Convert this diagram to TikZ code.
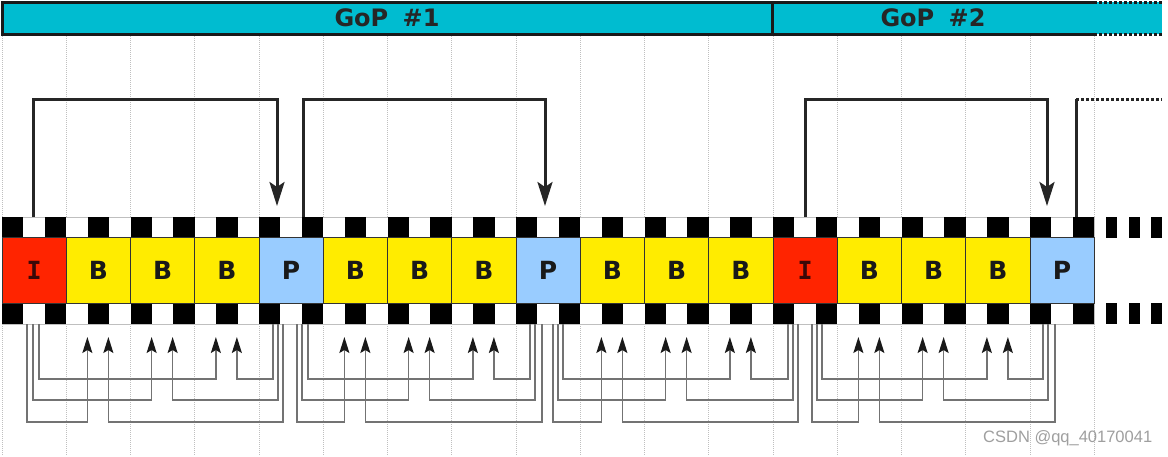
\documentclass[tikz,border=0pt]{standalone}
\usepackage{fontspec}
\setmainfont{DejaVu Sans}
\newfontfamily\monofnt{DejaVu Sans Mono}
\newfontfamily\wmfont{Liberation Sans}
\usetikzlibrary{arrows.meta,calc}
\definecolor{gopcyan}{HTML}{00BCD0}
\definecolor{ired}{HTML}{FF2400}
\definecolor{byellow}{HTML}{FFEC00}
\definecolor{pblue}{HTML}{99CCFF}
\definecolor{idark}{HTML}{3A0808}
\newcommand\Ilet{\textcolor{idark}{\monofnt\bfseries I}}
\begin{document}
\begin{tikzpicture}[x=1pt,y=-1pt,
  gridline/.style={gray!50,densely dotted,line width=1pt},
  gopline/.style={line width=3pt,draw=black!90},
  goptext/.style={font=\bfseries\fontsize{24}{24}\selectfont,text=black!85,inner sep=0pt},
  frame/.style={draw=black!80,line width=0.9pt,minimum width=64.25pt,minimum height=66pt,
    inner sep=0pt,font=\bfseries\fontsize{25}{25}\selectfont,text=black!90},
  sprocketrow/.style={fill=white,draw=gray!50,line width=0.5pt},
  toparr/.style={line width=3pt,draw=black!85,-{Stealth[length=24pt,width=15pt,inset=5pt]}},
  botarr/.style={line width=1.5pt,draw=black!55,-{Stealth[length=16pt,width=10pt,inset=3pt,color=black!90]}},
]
\useasboundingbox (0,0) rectangle (1168,456);
\fill[white] (0,0) rectangle (1168,456);

% grid
\foreach \k in {0,...,17} \draw[gridline] ({2+64.25*\k},36) -- ({2+64.25*\k},456);

% GoP bar
\fill[gopcyan] (2,2) rectangle (1162,34);
\draw[gopline] (1094,2) -- (2,2) -- (2,34) -- (1094,34);
\draw[gopline,dotted] (1094,2) -- (1162,2);
\draw[gopline,dotted] (1094,34) -- (1162,34);
\draw[gopline] (772,2) -- (772,34);
\node[goptext] (gop1) at (387,18) {GoP\hspace{0.6em}\#1};
\node[goptext] (gop2) at (933,18) {GoP\hspace{0.6em}\#2};

% sprocket rows
\path[sprocketrow] (2,217) rectangle (1094,238);
\path[sprocketrow] (2,303) rectangle (1094,324);
\foreach \k in {0,2,...,50} {
  \fill ({2+21.4167*\k},217) rectangle ++(21.4167,21);
  \fill ({2+21.4167*\k},303) rectangle ++(21.4167,21);
}
\foreach \x in {1106,1129,1151} {
  \fill (\x,217) rectangle ++(11,21);
  \fill (\x,303) rectangle ++(11,21);
}

% frames
\foreach \k/\t/\c in {0/\Ilet/ired,1/B/byellow,2/B/byellow,3/B/byellow,4/P/pblue,
  5/B/byellow,6/B/byellow,7/B/byellow,8/P/pblue,9/B/byellow,10/B/byellow,11/B/byellow,
  12/\Ilet/ired,13/B/byellow,14/B/byellow,15/B/byellow,16/P/pblue}
  \node[frame,fill=\c] (f\k) at ({2+64.25*(\k+0.5)},270) {\t};

% top reference arrows
\coordinate (ts0) at (33,217);   \coordinate (te0) at (277,206);
\coordinate (ts1) at (303,217);  \coordinate (te1) at (545,206);
\coordinate (ts2) at (805,217);  \coordinate (te2) at (1047,206);
\coordinate (ts3) at (1076,217); \coordinate (te3) at (1162,99);
\draw[toparr] (ts0) -- ++(0,-118) -| (te0);
\draw[toparr] (ts1) -- ++(0,-118) -| (te1);
\draw[toparr] (ts2) -- ++(0,-118) -| (te2);
\draw[line width=3pt,black!85] (ts3) -- ++(0,-118) coordinate (tc3);
\draw[line width=3pt,black!85,dotted] (tc3) -- (te3);

% bottom prediction arrows
\coordinate (lvA) at (0,422);
\coordinate (lvB) at (0,400);
\coordinate (lvC) at (0,379);
\foreach \g/\la/\lb/\lc/\ra/\rb/\rc in {1/27/33/39/273/278/283, 5/297/302/308/530/535/542,
    9/553/558/563/788/793/798, 13/812/817/822/1043/1048/1055} {
  \pgfmathsetmacro\ca{2+64.25*(\g+0.5)}
  \pgfmathsetmacro\cb{2+64.25*(\g+1.5)}
  \pgfmathsetmacro\cc{2+64.25*(\g+2.5)}
  \coordinate (sa) at (\la,324); \coordinate (sb) at (\lb,324); \coordinate (sc) at (\lc,324);
  \coordinate (ra) at (\rc,324); \coordinate (rb) at (\rb,324); \coordinate (rc) at (\ra,324);
  \coordinate (ea) at (\ca-11,337); \coordinate (eb) at (\cb-11,337); \coordinate (ec) at (\cc-11,337);
  \coordinate (fa) at (\ca+10,337); \coordinate (fb) at (\cb+10,337); \coordinate (fc) at (\cc+10,337);
  \draw[botarr] (sa) -- (sa |- lvA) -| (ea);
  \draw[botarr] (sb) -- (sb |- lvB) -| (eb);
  \draw[botarr] (sc) -- (sc |- lvC) -| (ec);
  \draw[botarr] (ra) -- (ra |- lvA) -| (fa);
  \draw[botarr] (rb) -- (rb |- lvB) -| (fb);
  \draw[botarr] (rc) -- (rc |- lvC) -| (fc);
}

% watermark
\node[anchor=west,inner sep=0pt,text=gray!75,font=\wmfont\fontsize{16.5}{16.5}\selectfont] (wm) at (983,438) {CSDN @qq\_40170041};
\end{tikzpicture}
\end{document}
